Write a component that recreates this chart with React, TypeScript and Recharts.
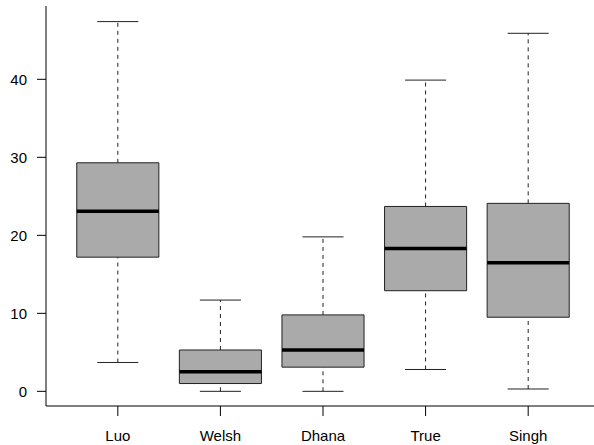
import { ComposedChart, XAxis, YAxis, Scatter, ReferenceArea, ReferenceLine } from 'recharts'

const categories = ['Luo', 'Welsh', 'Dhana', 'True', 'Singh']
const lowerWhisker = [3.7, 0.0, 0.0, 2.8, 0.3]
const lowerQuartile = [17.2, 1.0, 3.1, 12.9, 9.5]
const medians = [23.1, 2.5, 5.3, 18.3, 16.5]
const upperQuartile = [29.3, 5.3, 9.8, 23.7, 24.1]
const upperWhisker = [47.4, 11.7, 19.8, 39.9, 45.9]
const yTicks = [0, 10, 20, 30, 40]

const FONT = '"Liberation Sans", Arial, Helvetica, sans-serif'
const BOX_HALF = 0.4
const CAP_HALF = 0.2

const rows = categories.map((name, i) => ({
  x: i + 1,
  name,
  median: medians[i],
}))

// median bar: 0.8 of category width (~82px at this size)
function MedianShape(props: any) {
  const { cx, cy } = props
  if (cx == null || cy == null) return null
  return <line x1={cx - 41} x2={cx + 41} y1={cy} y2={cy} stroke="#000" strokeWidth={3.5} />
}

export default function App() {
  return (
    <div style={{ position: 'absolute', left: 0, top: 0, background: '#fff' }}>
      <ComposedChart width={594} height={445} data={rows} margin={{ top: 6, right: -6, bottom: 0, left: 0 }}>
        <XAxis
          dataKey="x"
          type="number"
          domain={[0.3, 5.7]}
          allowDataOverflow
          ticks={[1, 2, 3, 4, 5]}
          tickFormatter={(v: number) => categories[v - 1] ?? ''}
          height={39}
          tickSize={10}
          tickMargin={14}
          axisLine={{ stroke: '#000' }}
          tickLine={{ stroke: '#000' }}
          tick={{ fill: '#000', fontSize: 15, fontFamily: FONT }}
          interval={0}
        />
        <XAxis
          xAxisId="top"
          orientation="top"
          type="number"
          domain={[0.3, 5.7]}
          height={0}
          tick={false}
          tickLine={false}
          axisLine={{ stroke: '#000' }}
        />
        <YAxis
          type="number"
          domain={[-1.88, 49.4]}
          allowDataOverflow
          ticks={yTicks}
          width={46}
          tickSize={9}
          tickMargin={10}
          axisLine={{ stroke: '#000' }}
          tickLine={{ stroke: '#000' }}
          tick={{ fill: '#000', fontSize: 15, fontFamily: FONT }}
          interval={0}
        />

        {/* whiskers */}
        {categories.map((c, i) => (
          <ReferenceLine
            key={'wu' + c}
            segment={[{ x: i + 1, y: upperQuartile[i] }, { x: i + 1, y: upperWhisker[i] }]}
            stroke="#222"
            strokeDasharray="4 4"
          />
        ))}
        {categories.map((c, i) => (
          <ReferenceLine
            key={'wl' + c}
            segment={[{ x: i + 1, y: lowerWhisker[i] }, { x: i + 1, y: lowerQuartile[i] }]}
            stroke="#222"
            strokeDasharray="4 4"
          />
        ))}
        {/* caps */}
        {categories.map((c, i) => (
          <ReferenceLine
            key={'cu' + c}
            segment={[{ x: i + 1 - CAP_HALF, y: upperWhisker[i] }, { x: i + 1 + CAP_HALF, y: upperWhisker[i] }]}
            stroke="#222"
          />
        ))}
        {categories.map((c, i) => (
          <ReferenceLine
            key={'cl' + c}
            segment={[{ x: i + 1 - CAP_HALF, y: lowerWhisker[i] }, { x: i + 1 + CAP_HALF, y: lowerWhisker[i] }]}
            stroke="#222"
          />
        ))}
        {/* boxes */}
        {categories.map((c, i) => (
          <ReferenceArea
            key={'b' + c}
            x1={i + 1 - BOX_HALF}
            x2={i + 1 + BOX_HALF}
            y1={lowerQuartile[i]}
            y2={upperQuartile[i]}
            fill="#aaaaaa"
            fillOpacity={1}
            stroke="#222"
            strokeWidth={1}
          />
        ))}

        <Scatter dataKey="median" shape={<MedianShape />} isAnimationActive={false} />
      </ComposedChart>
    </div>
  )
}
